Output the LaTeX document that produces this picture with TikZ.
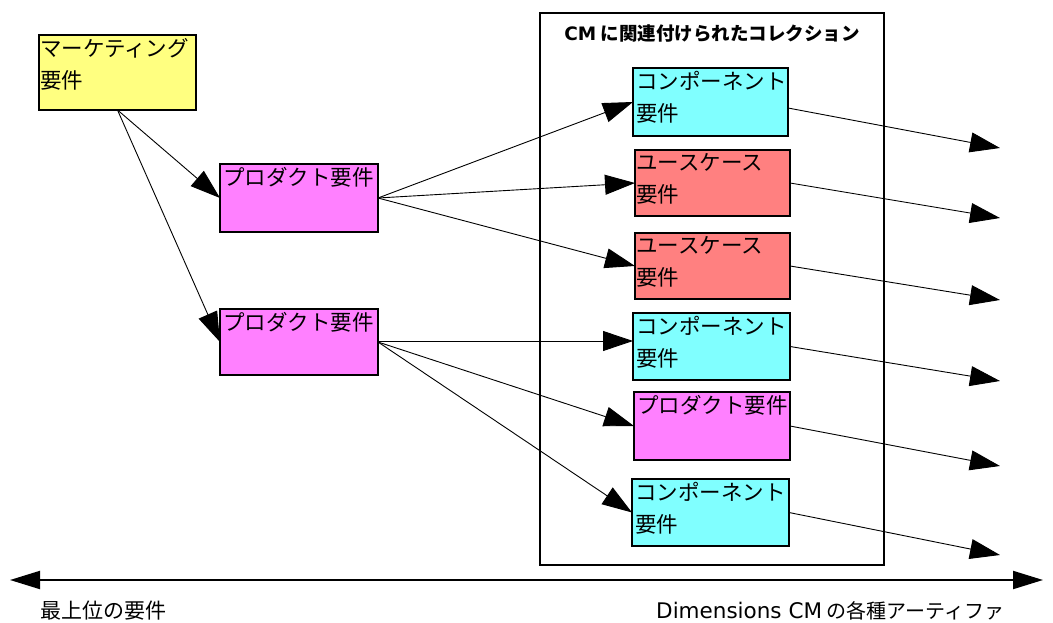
\documentclass[tikz,border=0pt]{standalone}
\usepackage{fontspec}
\setmainfont{Noto Sans CJK JP}
\newfontfamily\lat{DejaVu Sans}
\usetikzlibrary{arrows.meta}
\definecolor{yel}{HTML}{FFFF80}
\definecolor{mag}{HTML}{FF80FF}
\definecolor{cya}{HTML}{80FFFF}
\definecolor{sal}{HTML}{FF8080}
\tikzset{
  reqbox/.style={draw=black, line width=2.5pt, inner sep=0pt, outer sep=0pt},
  reqtext/.style={anchor=north west, inner sep=0pt, align=left, font=\fontsize{21.5}{32.5}\selectfont},
  conn/.style={line width=0.9pt, -{Triangle[length=30pt,width=20pt]}},
  axis/.style={line width=2pt, {Triangle[length=30pt,width=18pt]}-{Triangle[length=30pt,width=18pt]}},
  lbl/.style={anchor=west, inner sep=0pt, font=\fontsize{21}{26}\selectfont}
}
\begin{document}
\begin{tikzpicture}[x=1pt,y=-1pt]
\useasboundingbox (0,0) rectangle (1053,623);
% container
\node[draw=black, line width=2pt, minimum width=344pt, minimum height=552pt, inner sep=0pt] (coll) at (712,289) {};
\node[font=\fontsize{18.5}{22}\selectfont\bfseries, inner sep=0pt] (title) at (712,33) {{\lat CM} に関連付けられたコレクション};
% boxes
\node[reqbox, fill=yel, minimum width=157pt, minimum height=75pt] (mk) at (117.5,72.5) {};
\node[reqbox, fill=mag, minimum width=158pt, minimum height=68pt] (p1) at (299,198) {};
\node[reqbox, fill=mag, minimum width=158pt, minimum height=66pt] (p2) at (299,342) {};
\node[reqbox, fill=cya, minimum width=155pt, minimum height=68pt] (c1) at (710.5,102) {};
\node[reqbox, fill=sal, minimum width=155pt, minimum height=66pt] (u1) at (712.5,183) {};
\node[reqbox, fill=sal, minimum width=155pt, minimum height=66pt] (u2) at (712.5,266) {};
\node[reqbox, fill=cya, minimum width=157pt, minimum height=67pt] (c2) at (711.5,346.5) {};
\node[reqbox, fill=mag, minimum width=156pt, minimum height=68pt] (pr3) at (712,426) {};
\node[reqbox, fill=cya, minimum width=157pt, minimum height=67pt] (c3) at (710.5,512.5) {};
% texts
\node[reqtext] (tmk) at ([xshift=1pt,yshift=-3pt]mk.north west) {マーケティング\\要件};
\node[reqtext] (tp1) at ([xshift=3pt,yshift=-3pt]p1.north west) {プロダクト要件};
\node[reqtext] (tp2) at ([xshift=3pt,yshift=-3pt]p2.north west) {プロダクト要件};
\node[reqtext] (tc1) at ([xshift=3pt,yshift=-3pt]c1.north west) {コンポーネント\\要件};
\node[reqtext] (tu1) at ([xshift=1pt,yshift=-3pt]u1.north west) {ユースケース\\要件};
\node[reqtext] (tu2) at ([xshift=1pt,yshift=-3pt]u2.north west) {ユースケース\\要件};
\node[reqtext] (tc2) at ([xshift=3pt,yshift=-3pt]c2.north west) {コンポーネント\\要件};
\node[reqtext] (tpr3) at ([xshift=3pt,yshift=-3pt]pr3.north west) {プロダクト要件};
\node[reqtext] (tc3) at ([xshift=3pt,yshift=-3pt]c3.north west) {コンポーネント\\要件};
% connectors
\draw[conn] (mk.south) -- (p1.west);
\draw[conn] (mk.south) -- (p2.west);
\draw[conn] (p1.east) -- (c1.west);
\draw[conn] (p1.east) -- (u1.west);
\draw[conn] (p1.east) -- (u2.west);
\draw[conn] ([yshift=1pt]p2.east) -- ([yshift=1pt]p2.east -| c2.west);
\draw[conn] (p2.east) -- (pr3.west);
\draw[conn] (p2.east) -- (c3.west);
% outgoing
\coordinate (e1) at (1000,148);
\coordinate (e2) at (1000,218);
\coordinate (e3) at (1000,300);
\coordinate (e4) at (1000,381);
\coordinate (e5) at (1000,466);
\coordinate (e6) at (1000,555);
\draw[conn] ([yshift=-6pt]c1.east) -- (e1);
\draw[conn] (u1.east) -- (e2);
\draw[conn] (u2.east) -- (e3);
\draw[conn] (c2.east) -- (e4);
\draw[conn] (pr3.east) -- (e5);
\draw[conn] (c3.east) -- (e6);
% axis
\coordinate (aL) at (10,580);
\coordinate (aR) at (1043,580);
\draw[axis] (aL) -- (aR);
\node[lbl] (l1) at (40,611) {最上位の要件};
\node[lbl] (l2) at (656,611) {{\lat\fontsize{21.5}{26}\selectfont Dimensions CM} {\fontsize{20}{26}\selectfont の各種アーティファ}};
\end{tikzpicture}
\end{document}
